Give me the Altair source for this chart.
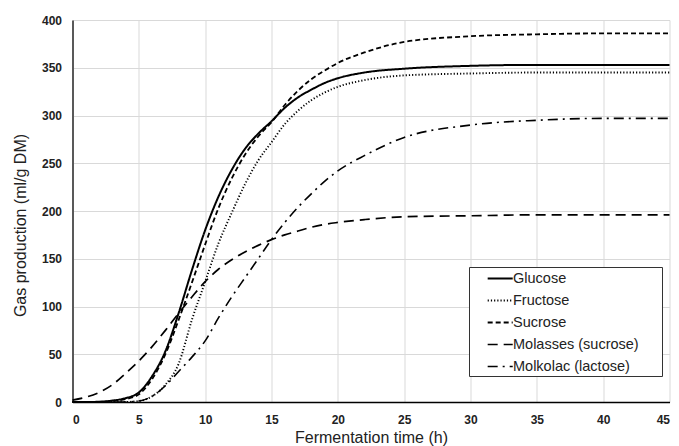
import altair as alt
import pandas as pd

times = [0, 1, 2, 3, 4, 5, 6, 7, 8, 9, 10, 11, 12, 13, 14, 15, 16, 17, 18, 19, 20, 22, 25, 30, 35, 40, 45]
glucose = [0, 0, 0.3, 1.5, 4, 10, 27, 53, 93, 138, 180, 215, 243, 265, 281, 294, 308, 319, 327, 334, 339, 345, 349, 352, 353, 353, 353]
fructose = [0, 0, 0, 0, 0, 1, 6, 18, 40, 86, 126, 166, 198, 228, 253, 272, 291, 305, 316, 324, 330, 337, 342, 344, 345, 345, 345]
sucrose = [0, 0, 0.2, 1, 3, 8, 24, 50, 86, 125, 165, 203, 234, 259, 278, 293, 311, 326, 338, 347, 355, 366, 377, 383, 385, 386, 386]
molasses = [2, 5, 10, 18, 30, 43, 58, 75, 93, 110, 126, 139, 149, 157, 164, 170, 175, 179, 183, 186, 188, 191, 194, 195, 196, 196, 196]
molkolac = [0, 0, 0, 0, 0, 1, 6, 17, 32, 47, 64, 88, 110, 130, 150, 170, 188, 204, 218, 231, 242, 258, 277, 290, 295, 297, 297]

series_names = ["Glucose", "Fructose", "Sucrose", "Molasses (sucrose)", "Molkolac (lactose)"]
series_values = [glucose, fructose, sucrose, molasses, molkolac]
dash_styles = [[1, 0], [1.2, 2], [5, 3], [10, 6], [10, 5, 2, 5]]
line_widths = [2, 1.6, 2, 2, 2]

x_ticks = list(range(0, 46, 5))
y_ticks = list(range(0, 401, 50))

rows = []
for name, vals in zip(series_names, series_values):
    for t, v in zip(times, vals):
        rows.append({"time": t, "gas": v, "series": name})
df = pd.DataFrame(rows)

FONT = "Liberation Sans"
LABEL_EXPR = "datum.label + '" + "\u00a0" * 5 + "\u200b'"

chart = alt.Chart(df).mark_line(color="black", interpolate="monotone").encode(
    x=alt.X("time:Q", scale=alt.Scale(domain=[0, 45], nice=False),
            axis=alt.Axis(values=x_ticks, title="Fermentation time (h)", domainColor="black",
                          domainWidth=1.5, labelPadding=12, titleY=35, titleBaseline="middle")),
    y=alt.Y("gas:Q", scale=alt.Scale(domain=[0, 400], nice=False),
            axis=alt.Axis(values=y_ticks, title="Gas production (ml/g DM)", domainColor="#595959",
                          domainWidth=2, labelPadding=11, titleX=-52, titleY=205,
                          titleBaseline="middle", titleAlign="center", titleAngle=-90)),
    strokeDash=alt.StrokeDash("series:N", scale=alt.Scale(domain=series_names, range=dash_styles),
                              legend=alt.Legend(title=None, labelExpr=LABEL_EXPR)),
    strokeWidth=alt.StrokeWidth("series:N", scale=alt.Scale(domain=series_names, range=line_widths),
                                legend=alt.Legend(title=None, labelExpr=LABEL_EXPR)),
    order=alt.Order("time:Q"),
).properties(
    width=597, height=382,
    autosize=alt.AutoSizeParams(type="none"),
    padding={"left": 64.5, "top": 12, "right": 1.5, "bottom": 44},
).configure_view(stroke=None).configure_axis(
    grid=True, gridColor="#d9d9d9", gridWidth=1, ticks=False,
    labelFont=FONT, labelFontSize=12, labelFontWeight="bold", labelColor="#222222",
    titleFont=FONT, titleFontSize=16, titleFontWeight="normal", titleColor="#222222",
).configure_legend(
    orient="none", legendX=396.5, legendY=247,
    padding=3, rowPadding=7, labelLimit=300,
    symbolType="M-1.67,0H1.67", symbolSize=225, symbolOffset=19.7,
    symbolStrokeColor="black", symbolFillColor="transparent",
    labelFont=FONT, labelFontSize=14.5, labelColor="#222222", labelOffset=4.3,
    strokeColor="#333333", fillColor="white",
)

chart.save("out.html", embed_options={"renderer": "svg", "actions": False})
